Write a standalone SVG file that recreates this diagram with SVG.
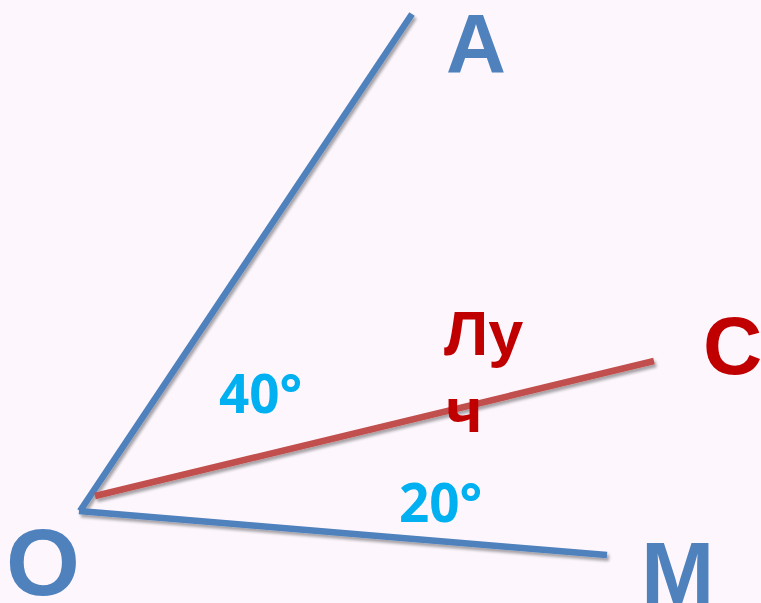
<svg xmlns="http://www.w3.org/2000/svg" width="761" height="603" viewBox="0 0 761 603">
<defs>
<filter id="sh" x="-10%" y="-10%" width="120%" height="120%">
<feGaussianBlur in="SourceAlpha" stdDeviation="1.5"/>
<feOffset dx="2" dy="3" result="b"/>
<feComponentTransfer><feFuncA type="linear" slope="0.35"/></feComponentTransfer>
<feMerge><feMergeNode/><feMergeNode in="SourceGraphic"/></feMerge>
</filter>
<style>
.blue{stroke:#4f81bd;stroke-width:6.5;fill:none}
.red{stroke:#c0504d;stroke-width:6.5;fill:none}
.lb{font-family:"Liberation Sans",Arial,sans-serif;font-weight:bold}
.deg{font-family:"Open Sans","Liberation Sans",sans-serif;font-weight:bold;fill:#00b0f0;font-size:53px}
</style>
</defs>
<rect width="761" height="603" fill="#fdf7fd"/>
<g id="connectors" filter="url(#sh)">
<line class="blue" x1="80" y1="511" x2="412" y2="14"/>
<line class="blue" x1="79" y1="511" x2="607" y2="555"/>
<line class="red" x1="95" y1="496" x2="654" y2="361"/>
</g>
<g id="O"><text class="lb" x="6" y="595" font-size="95" fill="#4f81bd">O</text></g>
<g id="A"><text class="lb" x="446" y="73" font-size="83" fill="#4f81bd">A</text></g>
<g id="M"><text class="lb" x="641" y="603" font-size="88" fill="#4f81bd">M</text></g>
<g id="C"><text class="lb" x="703" y="374" font-size="82" fill="#c00000">C</text></g>
<g id="ray"><text class="lb" font-size="63" fill="#c00000"><tspan x="444" y="355">Лу</tspan><tspan x="446" y="432">ч</tspan></text></g>
<g id="a40"><text class="deg" x="219" y="413">40°</text></g>
<g id="a20"><text class="deg" x="399" y="522">20°</text></g>
</svg>
